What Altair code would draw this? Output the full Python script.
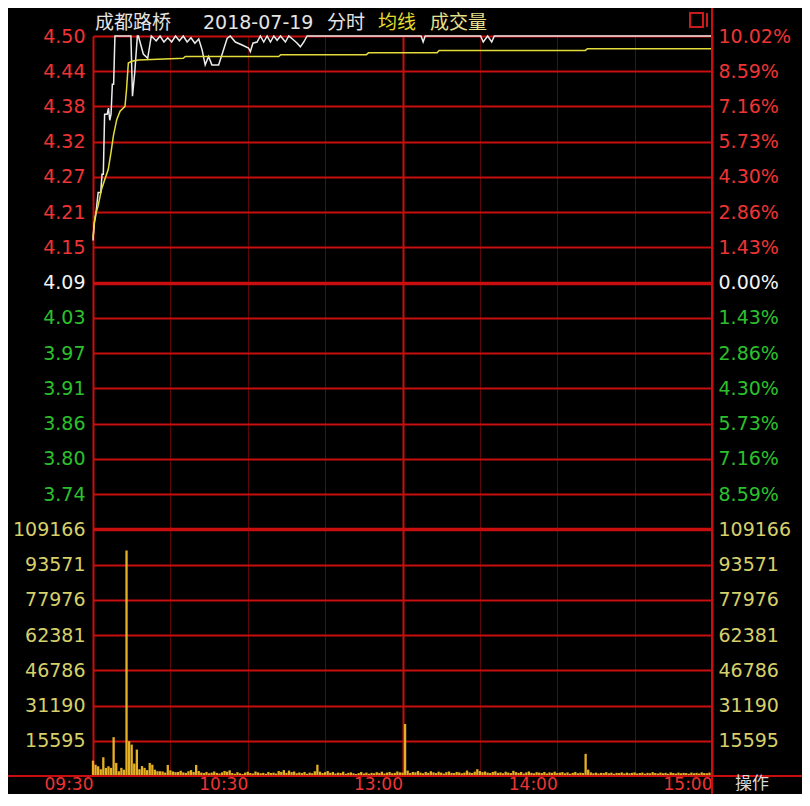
import json
import altair as alt
import pandas as pd

# ---------------- data ----------------
TITLE_NAME = "成都路桥"
TITLE_DATE = "2018-07-19"
TITLE_MODE = "分时"
LEGEND_AVG = "均线"
LEGEND_VOL = "成交量"
CORNER_TEXT = "操作"

PREV_CLOSE = 4.09
PRICE_HIGH = 4.50
PRICE_LOW = 3.68

PRICE_LABELS = ["4.50", "4.44", "4.38", "4.32", "4.27", "4.21", "4.15",
                "4.09", "4.03", "3.97", "3.91", "3.86", "3.80", "3.74"]
PCT_LABELS = ["10.02%", "8.59%", "7.16%", "5.73%", "4.30%", "2.86%", "1.43%",
              "0.00%", "1.43%", "2.86%", "4.30%", "5.73%", "7.16%", "8.59%"]
VOL_TICKS = [109166, 93571, 77976, 62381, 46786, 31190, 15595]
VOL_LABELS = ["109166", "93571", "77976", "62381", "46786", "31190", "15595"]
TIME_LABEL_MINUTES = [0, 60, 120, 180, 240]
TIME_LABELS = ["09:30", "10:30", "13:00", "14:00", "15:00"]

# price line vertices (minute index from 09:30, price)
PRICE_MIN = [0, 0.5, 1, 2, 3, 3.5, 4, 4.5, 5.5, 6, 6.5, 7, 7.5, 8, 8.5,
             14.7, 15.3, 16.2, 17.2, 17.6, 19.5, 21.2, 22.6,
             24.5, 26, 27.5, 29, 30.5, 32, 33.5, 35, 36.5, 38, 39.5, 41,
             42.3, 43.5, 44.8, 46.1, 48.7, 50, 52, 53.2, 55.2, 57.8, 60.3,
             61, 62, 63.6, 64.9, 66.2, 67.5, 68.8, 70.1, 71.4, 72.7, 74.6,
             75.9, 77.9, 79.2, 80.4, 81.7, 83,
             127.2, 128, 128.8, 150.3, 151.3, 153, 154.6, 155.6, 240]
PRICE_VAL = [4.16, 4.19, 4.20, 4.24, 4.24, 4.27, 4.27, 4.37, 4.37, 4.38, 4.36, 4.37, 4.42, 4.42, 4.50,
             4.50, 4.40, 4.44, 4.50, 4.50, 4.47, 4.463, 4.50,
             4.492, 4.50, 4.49, 4.497, 4.49, 4.50, 4.492, 4.50, 4.49, 4.497, 4.488, 4.495,
             4.477, 4.452, 4.466, 4.452, 4.452, 4.469, 4.496, 4.50, 4.49, 4.485, 4.48,
             4.474, 4.488, 4.49, 4.50, 4.49, 4.50, 4.49, 4.50, 4.493, 4.50, 4.49,
             4.50, 4.493, 4.488, 4.482, 4.49, 4.50,
             4.50, 4.49, 4.50, 4.50, 4.49, 4.50, 4.49, 4.50, 4.50]

# average price line vertices
AVG_MIN = [0, 0.8, 2, 3.3, 4.6, 5.9, 7, 7.9, 9.2, 10.5, 12.4, 13, 13.7, 15, 17.6,
           22.7, 35, 35.8, 72, 72.8, 106, 106.8, 133.4, 134.2, 190.9, 191.7, 240]
AVG_VAL = [4.165, 4.20, 4.218, 4.245, 4.262, 4.278, 4.307, 4.334, 4.361, 4.375, 4.383,
           4.411, 4.455, 4.458, 4.460, 4.461, 4.463, 4.466, 4.466, 4.469, 4.469,
           4.472, 4.472, 4.476, 4.476, 4.479, 4.479]

# per-minute volume (09:30 .. 11:30 | 13:00 .. 15:00)
VOLUME = [
    6800, 5000, 4300, 3000, 8300, 3600, 4300, 3600, 17200, 5800,
    2100, 3600, 2800, 99800, 15400, 13900, 5500, 11700, 3000, 4400,
    3600, 2600, 5800, 5000, 2800, 2100, 2100, 2000, 1500, 4900,
    2500, 2000, 1700, 1800, 2300, 1600, 1400, 2100, 2600, 1800,
    4900, 2200, 1500, 1300, 1800, 1200, 1500, 2000, 1400, 1100,
    1600, 2200, 1900, 2500, 1300, 1000, 1700, 1200, 900, 1500,
    1900, 1300, 1100, 2000, 1600, 1200, 1400, 1000, 1800, 1300,
    1500, 1100, 2200, 1800, 2600, 1400, 2400, 1700, 2000, 1200,
    1600, 1300, 1800, 1000, 1500, 1200, 2100, 5000, 1900, 1300,
    1700, 2200, 1400, 1800, 1100, 1500, 1300, 1900, 1000, 1400,
    1600, 1200, 900, 1300, 1800, 1100, 1500, 1000, 1400, 1200,
    1700, 1300, 1900, 1100, 1500, 1800, 1200, 1400, 2000, 1600,
    1500, 23000, 2400, 1300, 1800, 1600, 2200, 1500, 1200, 1800,
    1400, 2100, 1600, 1300, 1900, 1500, 1100, 1700, 2000, 1400,
    1300, 1800, 1600, 1200, 1500, 2400, 1600, 1300, 1900, 3000,
    2200, 1700, 2000, 1500, 1300, 1800, 2100, 1400, 1600, 1200,
    1900, 1500, 1300, 2300, 1700, 1400, 1800, 1100, 1600, 2000,
    1400, 1200, 1700, 1500, 1300, 1800, 1100, 1600, 1400, 1900,
    1300, 1500, 1700, 1200, 1600, 1000, 1400, 1800, 1200, 1500,
    1300, 9800, 2800, 1600, 1200, 1500, 1100, 1400, 1300, 1700,
    1200, 1500, 1000, 1400, 1300, 1600, 1100, 1500, 1200, 1400,
    1600, 1100, 1300, 1500, 1000, 1400, 1200, 1700, 1300, 1100,
    1500, 1200, 1400, 1000, 1600, 1300, 1100, 1500, 1200, 1400,
    1300, 1000, 1500, 1200, 1400, 1100, 1600, 1300, 1200, 1500,
    1000]

# ---------------- styling ----------------
W, H = 619, 740
FONT = "DejaVu Sans"
CJK = "Noto Sans CJK SC"
RED_LBL = "#ee3434"
GREEN_LBL = "#2cc02c"
WHITE_LBL = "#f2f2f2"
YELLOW_LBL = "#d6d06a"
GRID_RED = "#c80e0e"
DIM_RED = "#5e0606"

price_df = pd.DataFrame({"m": PRICE_MIN, "p": PRICE_VAL})
avg_df = pd.DataFrame({"m": AVG_MIN, "p": AVG_VAL})
vol_df = pd.DataFrame({"m": list(range(len(VOLUME))), "v": VOLUME})

step = (PRICE_HIGH - PRICE_LOW) / 14
price_ticks = [PRICE_HIGH - i * step for i in range(len(PRICE_LABELS))]

x_scale = alt.Scale(domain=[0, 240], nice=False, zero=False)
price_scale = alt.Scale(domain=[PRICE_LOW - (PRICE_HIGH - PRICE_LOW) / 2, PRICE_HIGH],
                        nice=False, zero=False)
vol_scale = alt.Scale(domain=[0, VOL_TICKS[0] * 3], nice=False, zero=False)

price_color = {"condition": [{"test": f"datum.value > {PREV_CLOSE + 0.01}", "value": RED_LBL},
                             {"test": f"datum.value < {PREV_CLOSE - 0.01}", "value": GREEN_LBL}],
               "value": WHITE_LBL}

x_label_expr = (f"indexof({json.dumps(TIME_LABEL_MINUTES)}, datum.value) >= 0 ? "
                f"{json.dumps(TIME_LABELS)}[indexof({json.dumps(TIME_LABEL_MINUTES)}, datum.value)] : ''")

x_axis = alt.Axis(
    values=list(range(0, 241, 30)), grid=True,
    gridColor={"condition": {"test": "datum.value == 120", "value": GRID_RED}, "value": DIM_RED},
    gridWidth={"condition": {"test": "datum.value == 120", "value": 2}, "value": 1},
    ticks=False, domain=False, labelExpr=x_label_expr, labelAlign="right",
    labelBaseline="top", labelPadding=0, labelFlush=False, labelOverlap=False,
    labelColor=RED_LBL, labelFont=FONT, labelFontSize=17, title=None)

price_left_axis = alt.Axis(
    orient="left", values=price_ticks, grid=True, gridColor=GRID_RED,
    gridWidth={"condition": {"test": f"abs(datum.value - {PREV_CLOSE}) < 0.001", "value": 3.5},
               "value": 2},
    ticks=False, domain=True, domainColor=GRID_RED, domainWidth=2,
    labelExpr=f"{json.dumps(PRICE_LABELS)}[round(({PRICE_HIGH} - datum.value) / {step})]",
    labelColor=price_color, labelFont=FONT, labelFontSize=19, labelPadding=8,
    labelOverlap=False, labelBaseline="middle", title=None)

pct_right_axis = alt.Axis(
    orient="right", values=price_ticks, grid=False, ticks=False,
    domain=True, domainColor=GRID_RED, domainWidth=2,
    labelExpr=f"{json.dumps(PCT_LABELS)}[round(({PRICE_HIGH} - datum.value) / {step})]",
    labelColor=price_color, labelFont=FONT, labelFontSize=19, labelPadding=6,
    labelOverlap=False, labelBaseline="middle", title=None)

vol_label_expr = f"{json.dumps(VOL_LABELS)}[indexof({json.dumps(VOL_TICKS)}, datum.value)]"

vol_left_axis = alt.Axis(
    orient="left", values=VOL_TICKS, grid=True, gridColor=GRID_RED,
    gridWidth={"condition": {"test": f"datum.value == {VOL_TICKS[0]}", "value": 3.5}, "value": 2},
    ticks=False, domain=False, labelExpr=vol_label_expr, labelColor=YELLOW_LBL,
    labelFont=FONT, labelFontSize=19, labelPadding=8, labelOverlap=False,
    labelBaseline="middle", title=None)

vol_right_axis = alt.Axis(
    orient="right", values=VOL_TICKS, grid=False, ticks=False, domain=False,
    labelExpr=vol_label_expr, labelColor=YELLOW_LBL, labelFont=FONT, labelFontSize=19,
    labelPadding=6, labelOverlap=False, labelBaseline="middle", title=None)

# ---------------- marks ----------------
white_line = alt.Chart(price_df).mark_line(color="#ececec", strokeWidth=1.5).encode(
    x=alt.X("m:Q", scale=x_scale, axis=x_axis),
    y=alt.Y("p:Q", scale=price_scale, axis=price_left_axis))

avg_line = alt.Chart(avg_df).mark_line(color="#e4dc3a", strokeWidth=1.5).encode(
    x=alt.X("m:Q", scale=x_scale),
    y=alt.Y("p:Q", scale=price_scale, axis=pct_right_axis))

price_layer = alt.layer(white_line, avg_line).resolve_axis(y="independent")

vol_bars = alt.Chart(vol_df).mark_rule(color="#e6b025", strokeWidth=2.3).encode(
    x=alt.X("m:Q", scale=x_scale),
    y=alt.Y("v:Q", scale=vol_scale, axis=vol_left_axis),
    y2=alt.datum(0))

vol_ghost = alt.Chart(vol_df).mark_point(opacity=0).encode(
    x=alt.X("m:Q", scale=x_scale),
    y=alt.Y("v:Q", scale=vol_scale, axis=vol_right_axis))

volume_layer = alt.layer(vol_bars, vol_ghost).resolve_axis(y="independent")


def text_layer(text, x, y, color, size, font, align="left"):
    return alt.Chart(pd.DataFrame({"t": [text]})).mark_text(
        align=align, baseline="middle", color=color, fontSize=size, font=font
    ).encode(x=alt.value(x), y=alt.value(y), text="t:N")


one = pd.DataFrame({"k": [0]})
right_line = alt.Chart(one).mark_rule(color=GRID_RED, strokeWidth=2).encode(
    x=alt.value(W), y=alt.value(-30), y2=alt.value(H + 20))
bottom_line = alt.Chart(one).mark_rule(color=GRID_RED, strokeWidth=2).encode(
    x=alt.value(-90), x2=alt.value(W + 95), y=alt.value(H))
icon_box = alt.Chart(one).mark_rect(fillOpacity=0, stroke="#cc1a1a", strokeWidth=2).encode(
    x=alt.value(597), x2=alt.value(610), y=alt.value(-23), y2=alt.value(-9))
icon_bar = alt.Chart(one).mark_rule(color="#cc1a1a", strokeWidth=2).encode(
    x=alt.value(614), y=alt.value(-23), y2=alt.value(-9))

title_layers = [
    text_layer(TITLE_NAME, 2, -13, "#e4e4e4", 19, CJK),
    text_layer(TITLE_DATE, 110, -13, "#e4e4e4", 19, FONT),
    text_layer(TITLE_MODE, 234, -13, "#e4e4e4", 19, CJK),
    text_layer(LEGEND_AVG, 285, -13, "#e2da2c", 19, CJK),
    text_layer(LEGEND_VOL, 337, -13, "#e6e08c", 19, CJK),
    text_layer(CORNER_TEXT, 642, H + 8, "#d8d8d8", 17, CJK),
]

chart = alt.layer(
    price_layer, volume_layer, right_line, bottom_line, icon_box, icon_bar, *title_layers
).resolve_scale(y="independent").properties(
    width=W, height=H, background="#000000",
    padding={"left": 85, "top": 28, "right": 90, "bottom": 18},
    autosize=alt.AutoSizeParams(type="none"),
).configure_view(stroke=None)

chart.save("out.html", embed_options={"renderer": "svg", "actions": False})
